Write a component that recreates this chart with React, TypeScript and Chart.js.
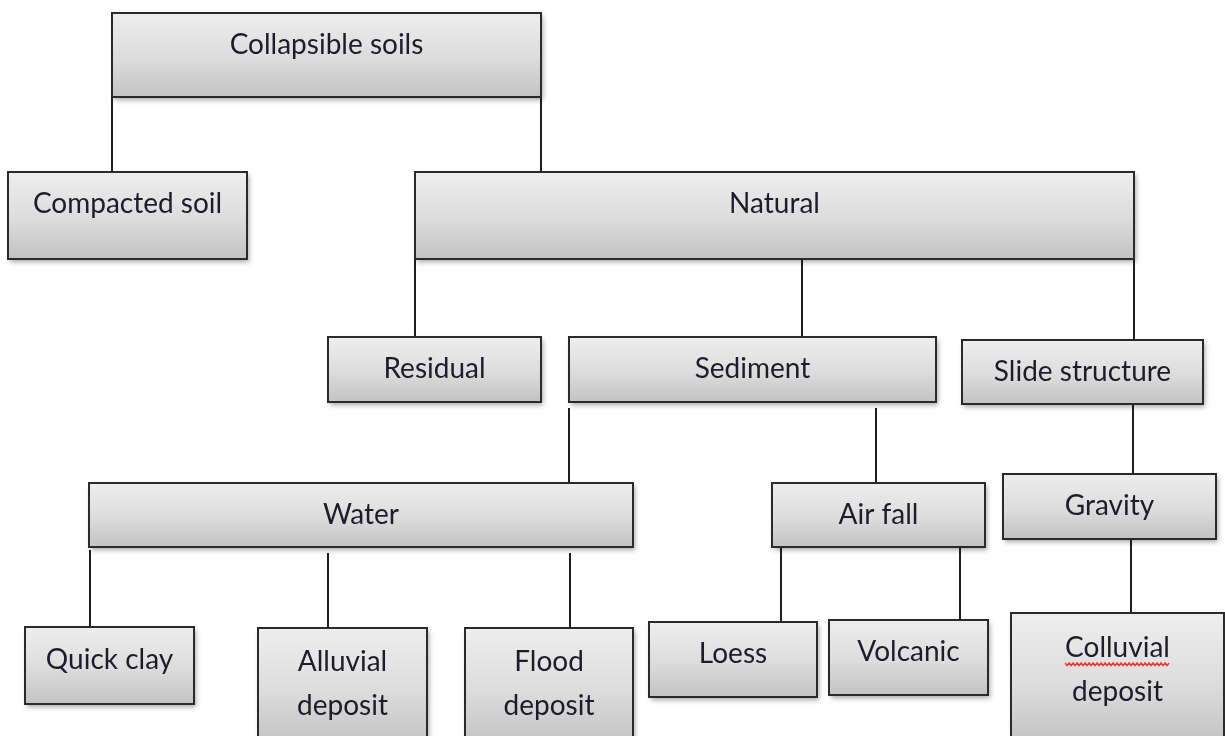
import React, { useEffect, useRef } from "react";
import { Chart, registerables } from "chart.js";

Chart.register(...registerables);

// Node boxes (diagram coordinates: x 0..1225, y 0..736 from top)
const nodeLabels: string[][] = [
  ["Collapsible soils"],
  ["Compacted soil"],
  ["Natural"],
  ["Residual"],
  ["Sediment"],
  ["Slide structure"],
  ["Water"],
  ["Air fall"],
  ["Gravity"],
  ["Quick clay"],
  ["Alluvial", "deposit"],
  ["Flood", "deposit"],
  ["Loess"],
  ["Volcanic"],
  ["Colluvial", "deposit"],
];
const nodeLeft = [112, 8, 415, 328, 569, 962, 89, 772, 1003, 25, 258, 465, 649, 829, 1011];
const nodeTop = [13, 172, 172, 337, 337, 340, 483, 483, 474, 627, 628, 628, 622, 620, 613];
const nodeRight = [541, 247, 1134, 541, 936, 1203, 633, 985, 1216, 194, 427, 633, 817, 988, 1224];
const nodeBottom = [97, 259, 259, 402, 402, 404, 547, 547, 539, 704, 745, 745, 697, 695, 745];
const textTop = [45, 204, 204, 369, 369, 372, 515, 515, 506, 660, 662, 662, 654, 652, 648];

// Connectors: parent -> child, drawn vertically at x
const edgeParent = [0, 0, 2, 2, 2, 4, 4, 5, 6, 6, 6, 7, 7, 8];
const edgeChild = [1, 2, 3, 4, 5, 6, 7, 8, 9, 10, 11, 12, 13, 14];
const edgeX = [112, 541, 415, 802, 1134, 569, 876, 1133, 90, 328, 570, 781, 960, 1131];
const edgeStart = [97, 97, 259, 259, 259, 408, 408, 404, 550, 553, 553, 545, 547, 539];

const spellFlagged = ["Colluvial"];

const treePlugin = {
  id: "treeDiagram",
  beforeDatasetsDraw(chart: any) {
    const ctx = chart.ctx as CanvasRenderingContext2D;
    const xs = chart.scales.x;
    const ys = chart.scales.y;
    const px = (v: number) => xs.getPixelForValue(v);
    const py = (v: number) => ys.getPixelForValue(v);

    ctx.save();
    // connectors
    ctx.strokeStyle = "#1f1f1f";
    ctx.lineWidth = 2;
    for (let i = 0; i < edgeParent.length; i++) {
      const c = edgeChild[i];
      const x = Math.round(px(edgeX[i]));
      ctx.beginPath();
      ctx.moveTo(x, py(edgeStart[i]));
      ctx.lineTo(x, py(nodeTop[c]));
      ctx.stroke();
    }

    // boxes
    for (let i = 0; i < nodeLabels.length; i++) {
      const l = px(nodeLeft[i]);
      const r = px(nodeRight[i]);
      const t = py(nodeTop[i]);
      const b = py(nodeBottom[i]);
      const g = ctx.createLinearGradient(0, t, 0, b);
      g.addColorStop(0, "#eeeeee");
      g.addColorStop(0.55, "#dcdcdc");
      g.addColorStop(1, "#c2c2c2");
      ctx.save();
      ctx.shadowColor = "rgba(0,0,0,0.35)";
      ctx.shadowBlur = 5;
      ctx.shadowOffsetX = 2;
      ctx.shadowOffsetY = 3;
      ctx.fillStyle = g;
      ctx.fillRect(l, t, r - l, b - t);
      ctx.restore();
      ctx.strokeStyle = "#2a2a2a";
      ctx.lineWidth = 2;
      ctx.strokeRect(l, t, r - l, b - t);

      ctx.fillStyle = "#1c1c2c";
      ctx.font = "28px Lato, 'Open Sans', sans-serif";
      ctx.textAlign = "center";
      ctx.textBaseline = "middle";
      const cx = (l + r) / 2;
      nodeLabels[i].forEach((line, k) => {
        const ty = py(textTop[i]) + k * 44;
        ctx.fillText(line, cx, ty);
        if (spellFlagged.includes(line)) {
          const w = ctx.measureText(line).width;
          ctx.save();
          ctx.strokeStyle = "#e83838";
          ctx.lineWidth = 1.5;
          ctx.beginPath();
          const yy = ty + 15;
          const x0 = cx - w / 2;
          let n = 0;
          for (let xx = x0; xx <= cx + w / 2; xx += 2, n++) {
            const off = n % 2 === 0 ? 0 : 2.5;
            if (n === 0) ctx.moveTo(xx, yy + off);
            else ctx.lineTo(xx, yy + off);
          }
          ctx.stroke();
          ctx.restore();
        }
      });
    }
    ctx.restore();
  },
};

export default function App() {
  const ref = useRef<HTMLCanvasElement | null>(null);
  useEffect(() => {
    if (!ref.current) return;
    const chart = new Chart(ref.current, {
      type: "scatter",
      data: {
        datasets: [
          {
            data: nodeLabels.map((_, i) => ({
              x: (nodeLeft[i] + nodeRight[i]) / 2,
              y: (nodeTop[i] + nodeBottom[i]) / 2,
            })),
            pointRadius: 0,
          },
        ],
      },
      options: {
        animation: false,
        responsive: false,
        maintainAspectRatio: false,
        layout: { padding: 0 },
        plugins: { legend: { display: false }, tooltip: { enabled: false } },
        scales: {
          x: { type: "linear", min: 0, max: 1225, display: false },
          y: { type: "linear", min: 0, max: 736, reverse: true, display: false },
        },
      },
      plugins: [treePlugin],
    });
    return () => chart.destroy();
  }, []);
  return (
    <div style={{ position: "fixed", left: 0, top: 0, width: 1225, height: 736, background: "#fff" }}>
      <canvas ref={ref} width={1225} height={736} style={{ display: "block" }} />
    </div>
  );
}
